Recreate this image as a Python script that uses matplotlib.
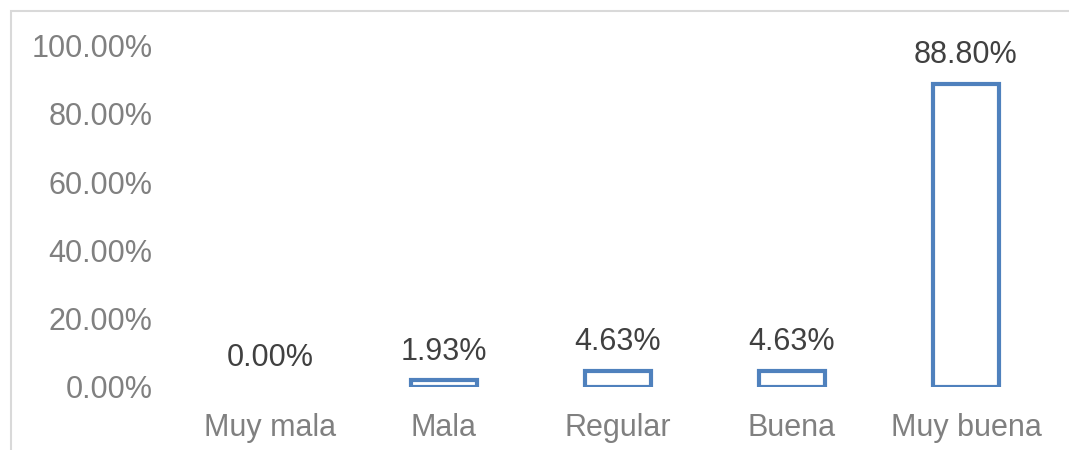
import matplotlib
matplotlib.use("Agg")
import matplotlib.pyplot as plt
from matplotlib.patches import Rectangle

categorias = ["Muy mala", "Mala", "Regular", "Buena", "Muy buena"]
porcentajes = [0.00, 1.93, 4.63, 4.63, 88.80]
ticks_y = [0, 20, 40, 60, 80, 100]

plt.rcParams["font.family"] = ["Liberation Sans", "DejaVu Sans"]

fig = plt.figure(figsize=(10.69, 4.5), dpi=100)
ax = fig.add_axes([0.1712, 0.14, 0.8138, 0.759])

x = range(len(categorias))
# las barras de valor cero no se dibujan
bordes = ["#4F81BD" if v > 0 else "none" for v in porcentajes]
ax.bar(x, porcentajes, width=0.38, color="white", edgecolor=bordes, linewidth=3)

for xi, v in zip(x, porcentajes):
    ax.annotate(f"{v:.2f}%", (xi, v), xytext=(0, 10), textcoords="offset points",
                ha="center", va="bottom", fontsize=22, color="#404040")

ax.set_xlim(-0.5, len(categorias) - 0.5)
ax.set_ylim(0, 100)
ax.set_yticks(ticks_y)
ax.set_yticklabels([f"{t:.2f}%" for t in ticks_y])
ax.set_xticks(list(x))
ax.set_xticklabels(categorias)
ax.tick_params(axis="y", length=0, pad=22, labelsize=22, labelcolor="#808080")
ax.tick_params(axis="x", length=0, pad=19, labelsize=22, labelcolor="#808080")
for s in ax.spines.values():
    s.set_visible(False)

# marco gris claro del área del gráfico
fig.patches.append(Rectangle((11 / 1069, -0.1), 1.2, 1 - 11 / 450 + 0.1,
                             transform=fig.transFigure, fill=False,
                             edgecolor="#D9D9D9", linewidth=1.5, clip_on=False))

fig.savefig("out.png", dpi=100)
